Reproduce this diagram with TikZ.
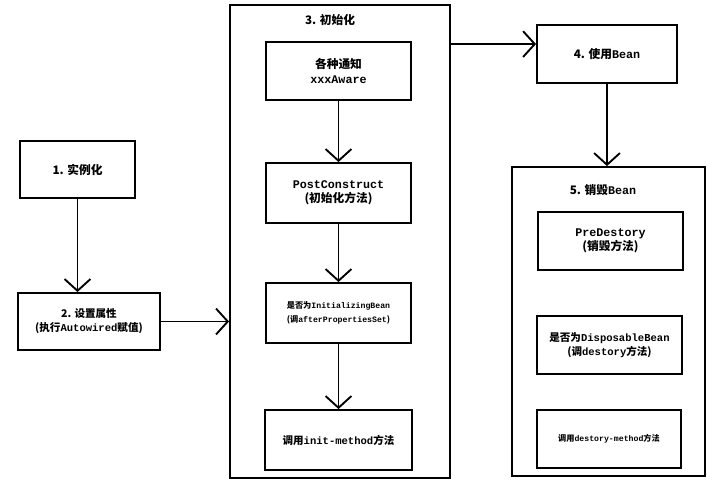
\documentclass[tikz,border=0pt]{standalone}
\usepackage{fontspec}
\setmainfont{Noto Sans CJK SC}
\setmonofont{Liberation Mono}
\usetikzlibrary{arrows.meta}
\tikzset{
  box/.style={draw, line width=1.6pt, inner sep=0pt, align=center, font=\bfseries},
  flow/.style={line width=1.6pt, -{Straight Barb[length=10pt, width=22pt, line width=1.6pt]}}
}
\newcommand{\bx}[6]{% name, x1, y1, x2, y2, text
  \node[box, minimum width={(#4-#2)*0.03cm}, minimum height={(#5-#3)*0.03cm}]
    (#1) at ({(#2+#4)/2*0.03}, {-(#3+#5)/2*0.03}) {#6};}
\begin{document}
\begin{tikzpicture}
    \useasboundingbox (0,0) rectangle (714*0.03, -490*0.03);
    % Outer frames
    \bx{init}{230}{5}{450}{478}{}
    \bx{destroy}{512}{167}{705}{476}{}
    \node[font=\bfseries] (inittitle) at (330*0.03, -20*0.03) {3. 初始化};
    \node[font=\bfseries] (destroytitle) at (603*0.03, -190*0.03) {5. 销毁\texttt{Bean}};
    % Left column
    \bx{inst}{20}{141}{135}{198}{1. 实例化}
    \bx{prop}{18}{293}{160}{350}{\small 2. 设置属性\\ \small (执行\texttt{Autowired}赋值)}
    % Init steps
    \bx{aware}{266}{42}{411}{100}{各种通知\\ \texttt{xxxAware}}
    \bx{post}{266}{163}{411}{223}{\texttt{PostConstruct}\\ (初始化方法)}
    \bx{initbean}{266}{283}{411}{343}{\scriptsize 是否为\texttt{InitializingBean}\\ \scriptsize (调\texttt{afterPropertiesSet})}
    \bx{initm}{265}{410}{412}{470}{\small 调用\texttt{init-method}方法}
    % Use
    \bx{use}{537}{25}{677}{83}{4. 使用\texttt{Bean}}
    % Destroy steps
    \bx{pre}{538}{212}{683}{270}{\texttt{PreDestory}\\ (销毁方法)}
    \bx{disp}{537}{316}{682}{374}{\small 是否为\texttt{DisposableBean}\\ \small (调\texttt{destory}方法)}
    \bx{destm}{537}{410}{681}{468}{\scriptsize 调用\texttt{destory-method}方法}
    % Connectors
    \draw[flow] (inst) -- (inst |- prop.north);
    \draw[flow] (prop) -- (prop -| init.west);
    \draw[flow] (aware) -- (post);
    \draw[flow] (post) -- (initbean);
    \draw[flow] (initbean) -- (initm);
    \draw[flow] (init.east |- use.north west) ++(0,-0.6) coordinate (from) -- (from -| use.west);
    \draw[flow] (use) -- (use |- destroy.north);
\end{tikzpicture}
\end{document}
